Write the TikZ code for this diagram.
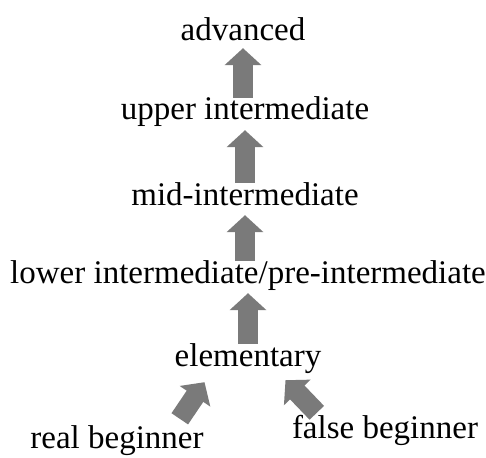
\documentclass[tikz,border=0pt]{standalone}
\usepackage{fontspec}
\setmainfont{Liberation Serif}
\usetikzlibrary{arrows.meta}
\tikzset{
  level/.style={anchor=base, inner sep=0pt, text height=22pt, text depth=10pt,
    font=\fontsize{33}{37}\selectfont},
  uparrow/.style={draw=black!52, line width=20pt, line cap=butt,
    -{Triangle[width=36pt,length=17pt]}}
}
\begin{document}
\begin{tikzpicture}[x=1pt, y=-1pt, line join=round]
  \useasboundingbox (0,0) rectangle (486,457);
  % levels
  \node[level] (adv) at (243,41) {advanced};
  \node[level] (upper) at (245,120) {upper intermediate};
  \node[level] (mid) at (245,205) {mid-intermediate};
  \node[level] (lower) at (248,283) {lower intermediate/pre-intermediate};
  \node[level] (elem) at (248,366) {elementary};
  \node[level] (real) at (117,448) {real beginner};
  \node[level] (false) at (385,438) {false beginner};
  % arrows
  \draw[uparrow] (upper.north -| adv.south) -- ([yshift=3pt]adv.south);
  \draw[uparrow] (mid.north -| upper.south) -- (upper.south);
  \draw[uparrow] (lower.north -| mid.south) -- (mid.south);
  \draw[uparrow] (elem.north -| lower.south) -- (lower.south);
  \draw[uparrow] ([xshift=-24pt,yshift=7pt]real.north east) -- ([xshift=30pt,yshift=-6pt]elem.south west);
  \draw[uparrow] ([xshift=25pt,yshift=3pt]false.north west) -- ([xshift=-36pt,yshift=-4pt]elem.south east);
\end{tikzpicture}
\end{document}
